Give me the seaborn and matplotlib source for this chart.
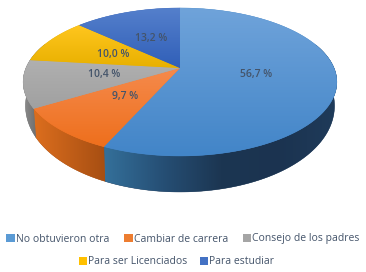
import numpy as np
import matplotlib
matplotlib.use("Agg")
import matplotlib.pyplot as plt
from matplotlib.colors import LinearSegmentedColormap
from matplotlib.patches import Patch, Polygon
import seaborn as sns

categories = ["No obtuvieron otra", "Cambiar de carrera", "Consejo de los padres",
              "Para ser Licenciados", "Para estudiar"]
values = [56.7, 9.7, 10.4, 10.0, 13.2]
legend_colors = ["#5b9bd5", "#ed7d31", "#a5a5a5", "#ffc000", "#4472c4"]

# top face gradient (upper, lower)
face_colors = [("#6fa3da", "#4285c8"), ("#f58a4c", "#ee6f1c"), ("#b0b0b0", "#a0a0a0"),
               ("#ffc61e", "#e8b000"), ("#5580cc", "#305fb8")]
# wall gradient, left to right
wall_stops = [["#34709a", "#264f75", "#1c3652", "#1b3350", "#1f3b5a"],
              ["#dc6e1e", "#a64e12"], ["#8e8e8e", "#6f6f6f"],
              ["#8e8e8e", "#6f6f6f"], ["#8e8e8e", "#6f6f6f"]]
label_xy = [(256, 75), (125, 96), (104, 75), (113, 54), (151, 39)]

sns.set_theme(style="white")
plt.rcParams["font.family"] = ["Open Sans", "DejaVu Sans"]
TEXT = "#44546a"

fig = plt.figure(figsize=(3.66, 2.72), dpi=100)
ax = fig.add_axes([0, 0, 1, 1])
ax.axis("off")


def project(theta):
    # circle seen in perspective, theta clockwise from the top
    front = -np.cos(theta)
    w = 1 - 0.189 * front
    return 180 + 154 * np.sin(theta) / w, (68 + 58.5 * front) / w


def lower(theta):
    x, y = project(theta)
    return 180 + (x - 180) * 0.985, y + 21 + 15 * (-np.cos(theta))


def gradient(pts, colors, horizontal, zorder):
    base = Polygon(pts, closed=True, fc=colors[-1], ec=colors[-1], lw=0.3, zorder=zorder)
    ax.add_patch(base)
    cmap = LinearSegmentedColormap.from_list("g", colors)
    ramp = np.linspace(0, 1, 256)
    ramp = ramp[None, :] if horizontal else ramp[:, None]
    im = ax.imshow(ramp, cmap=cmap, aspect="auto", interpolation="bilinear", zorder=zorder + 0.5,
                   extent=(pts[:, 0].min(), pts[:, 0].max(), pts[:, 1].max(), pts[:, 1].min()))
    im.set_clip_path(base)


bounds = np.cumsum([0] + values) / sum(values) * 2 * np.pi

# side wall
for i in range(len(values)):
    ang = np.linspace(bounds[i], bounds[i + 1], 200)
    ang = ang[-np.cos(ang) > -0.35]
    if len(ang) < 2:
        continue
    x1, y1 = project(ang)
    x2, y2 = lower(ang)
    pts = np.c_[np.r_[x1, x2[::-1]], np.r_[y1, y2[::-1]]]
    gradient(pts, wall_stops[i], True, 2)

# top face
for i in range(len(values)):
    x, y = project(np.linspace(bounds[i], bounds[i + 1], 200))
    pts = np.c_[np.r_[180, x], np.r_[68, y]]
    gradient(pts, face_colors[i], False, 4)

ax.set_xlim(0, 366)
ax.set_ylim(272, 0)

for (lx, ly), v in zip(label_xy, values):
    ax.text(lx, ly, f"{v:.1f} %".replace(".", ","), ha="center", va="center",
            fontsize=7.5, color=TEXT, fontweight="semibold", zorder=6)

handles = [Patch(fc=c, ec="none") for c in legend_colors]
leg_kw = dict(frameon=False, fontsize=7.5, labelcolor=TEXT, handlelength=0.8, handleheight=0.8,
              handletextpad=0.1, borderpad=0, loc="center")
fig.legend(handles[:3], categories[:3], ncol=3, columnspacing=1.45,
           bbox_to_anchor=(0.5, 1 - 239 / 272), **leg_kw)
fig.legend(handles[3:], categories[3:], ncol=2, columnspacing=1.2,
           bbox_to_anchor=(0.482, 1 - 262 / 272), **leg_kw)

fig.savefig("out.png", dpi=100, facecolor="white")
